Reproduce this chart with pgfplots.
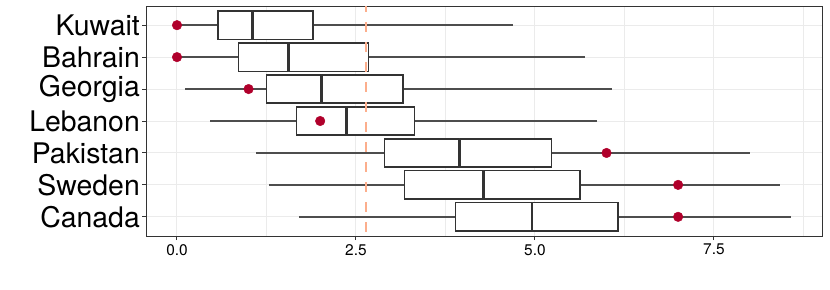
\documentclass[border=0pt]{standalone}
\usepackage{fontspec}
\setmainfont{TeX Gyre Heros}
\usepackage{pgfplots}
\pgfplotsset{compat=1.18}
\usepgfplotslibrary{statistics}
\definecolor{dotred}{HTML}{B0002B}
\definecolor{salmonline}{HTML}{FCAE8C}
\definecolor{gridc}{HTML}{EBEBEB}
\definecolor{boxc}{HTML}{333333}
\definecolor{whiskc}{HTML}{4D4D4D}
\begin{document}
\begin{tikzpicture}
\path[use as bounding box] (0,0) rectangle (830bp,290bp);
\begin{axis}[
  at={(146bp,54bp)}, anchor=south west,
  scale only axis, width=676bp, height=230bp,
  xmin=-0.433, xmax=9.01, ymin=0.4, ymax=7.6,
  xtick={0,2.5,5,7.5}, xticklabels={0.0,2.5,5.0,7.5},
  minor xtick={1.25,3.75,6.25,8.75},
  ytick={1,2,3,4,5,6,7},
  yticklabels={Canada,Sweden,Pakistan,Lebanon,Georgia,Bahrain,Kuwait},
  xmajorgrids, xminorgrids, ymajorgrids,
  major grid style={gridc, line width=1bp},
  minor grid style={gridc, line width=0.6bp},
  axis line style={boxc, line width=1bp},
  tick style={boxc, line width=1bp},
  major tick length=4bp, minor tick length=0pt,
  tick align=outside, xtick pos=bottom, ytick pos=left,
  yticklabel style={font=\fontsize{28.5}{28.5}\selectfont, text=black, inner xsep=2bp},
  xticklabel style={font=\fontsize{15.5}{15.5}\selectfont, text=black, inner ysep=4bp},
  boxplot/draw direction=x,
  boxplot/box extend=0.89,
  boxplot/whisker extend=0,
  boxplot/every box/.style={draw=boxc, fill=white, line width=1.6bp},
  boxplot/every whisker/.style={draw=whiskc, line width=1.4bp},
  boxplot/every median/.style={draw=boxc, line width=2.6bp},
  bxp/.style={draw=boxc, fill=white, line width=1.6bp, solid},
]
\addplot[bxp, boxplot prepared={lower whisker=0, lower quartile=0.573, median=1.057, upper quartile=1.90, upper whisker=4.70, draw position=7}] coordinates {};
\addplot[bxp, boxplot prepared={lower whisker=0, lower quartile=0.861, median=1.555, upper quartile=2.677, upper whisker=5.70, draw position=6}] coordinates {};
\addplot[bxp, boxplot prepared={lower whisker=0.112, lower quartile=1.248, median=2.016, upper quartile=3.16, upper whisker=6.07, draw position=5}] coordinates {};
\addplot[bxp, boxplot prepared={lower whisker=0.465, lower quartile=1.667, median=2.365, upper quartile=3.315, upper whisker=5.87, draw position=4}] coordinates {};
\addplot[bxp, boxplot prepared={lower whisker=1.108, lower quartile=2.90, median=3.95, upper quartile=5.23, upper whisker=8.01, draw position=3}] coordinates {};
\addplot[bxp, boxplot prepared={lower whisker=1.28, lower quartile=3.18, median=4.28, upper quartile=5.63, upper whisker=8.42, draw position=2}] coordinates {};
\addplot[bxp, boxplot prepared={lower whisker=1.71, lower quartile=3.89, median=4.96, upper quartile=6.16, upper whisker=8.58, draw position=1}] coordinates {};
\addplot[only marks, mark=*, mark size=4.8bp, color=dotred, mark options={draw=dotred, fill=dotred}] coordinates {
  (0,7) (0,6) (1,5) (2,4) (6,3) (7,2) (7,1)};
\addplot[draw=salmonline, line width=1.8bp, dash pattern=on 10bp off 10bp, dash phase=-4bp, mark=none] coordinates {(2.635,0.4) (2.635,7.6)};
\end{axis}
\end{tikzpicture}
\end{document}
